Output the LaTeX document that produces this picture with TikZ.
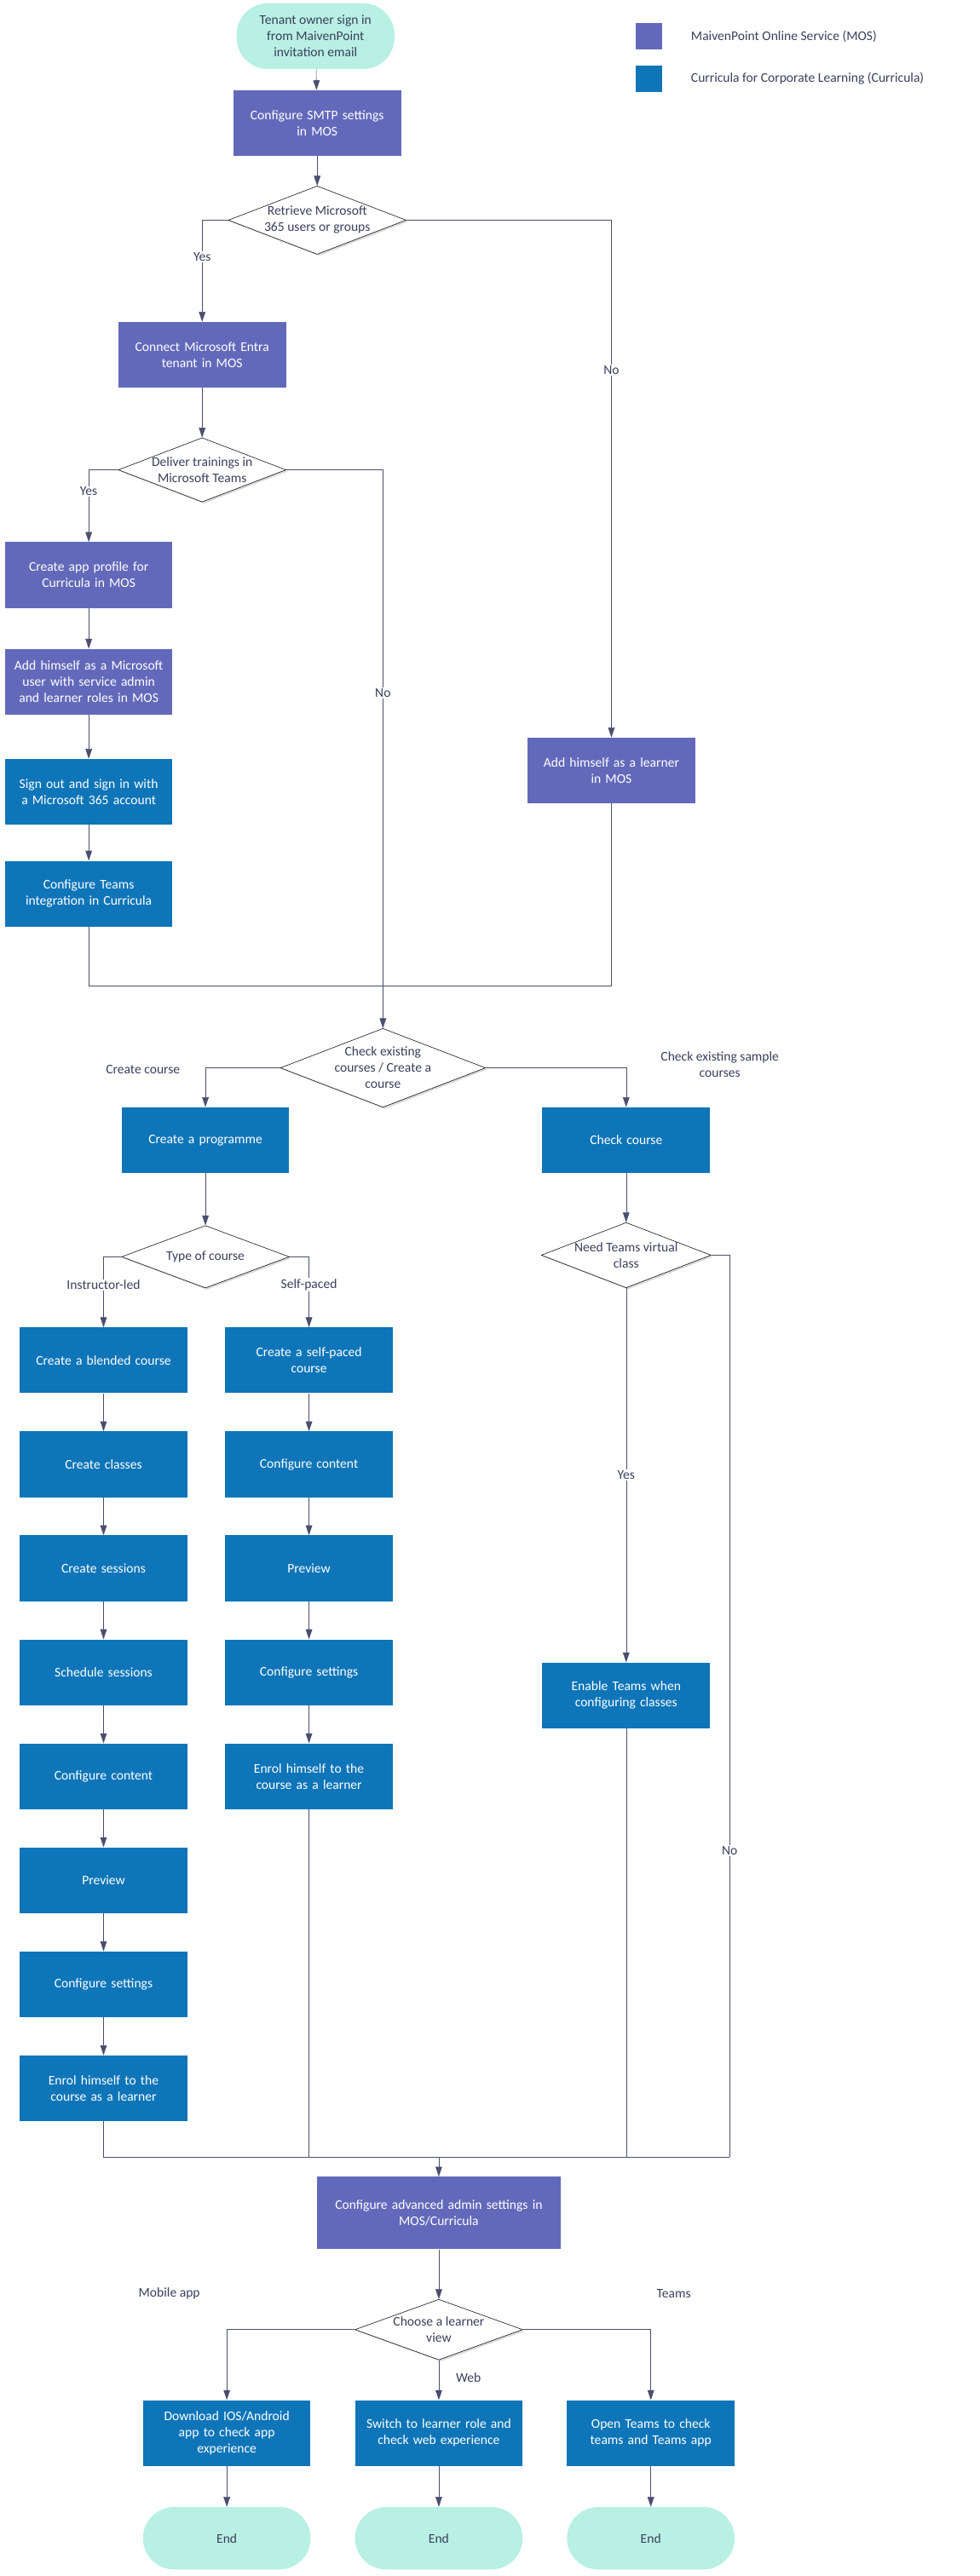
\documentclass[tikz,border=0pt]{standalone}
\usepackage{fontspec}
\setmainfont{Carlito}
\usetikzlibrary{shapes.geometric,arrows.meta,shadows}
\definecolor{mospurple}{HTML}{6369BA}
\definecolor{curblue}{HTML}{0E75B8}
\definecolor{termmint}{HTML}{B8F0E4}
\definecolor{linecol}{HTML}{4A4F6E}
\definecolor{txtcol}{HTML}{3B3F5C}
\begin{document}
\begin{tikzpicture}[x=0.05cm, y=-0.05cm,
    font=\fontsize{11.5}{14}\selectfont,
    mos/.style={rectangle, fill=mospurple, text=white, minimum width=5.1cm, minimum height=2cm, align=center, text width=4.8cm},
    cur/.style={rectangle, fill=curblue, text=white, minimum width=5.1cm, minimum height=2cm, align=center, text width=4.8cm},
    term/.style={rectangle, rounded corners=0.95cm, fill=termmint, text=txtcol, minimum width=5.1cm, minimum height=1.9cm, align=center},
    dec/.style={diamond, draw=black, fill=white, aspect=2.6, inner sep=0pt, minimum width=5.1cm, minimum height=1.9cm, align=center, text=txtcol, drop shadow={opacity=0.3, shadow xshift=0.5mm, shadow yshift=-0.5mm}},
    arr/.style={-{Triangle[length=3mm, width=2mm]}, linecol, thin},
    ln/.style={linecol, thin},
    lbl/.style={fill=white, text=txtcol, inner sep=1pt, align=center}
]
    \useasboundingbox (0,0) rectangle (596,1568);

    % legend
    \fill[mospurple] (387,14) rectangle (403,30);
    \fill[curblue] (387,40) rectangle (403,56);
    \node[anchor=west, text=txtcol] (legmos) at (418,22) {MaivenPoint Online Service (MOS)};
    \node[anchor=west, text=txtcol] (legcur) at (418,48) {Curricula for Corporate Learning (Curricula)};

    % top part
    \node[term, minimum width=4.8cm, minimum height=2cm] (start) at (192,22) {Tenant owner sign in\\from MaivenPoint\\invitation email};
    \node[mos] (smtp) at (193,75) {Configure SMTP settings\\in MOS};
    \node[dec] (retr) at (193,134) {Retrieve Microsoft\\365 users or groups};
    \node[mos] (entra) at (123,216) {Connect Microsoft Entra\\tenant in MOS};
    \node[dec] (teams) at (123,286) {Deliver trainings in\\Microsoft Teams};
    \node[mos] (app) at (54,350) {Create app profile for\\Curricula in MOS};
    \node[mos] (msuser) at (54,415) {Add himself as a Microsoft user with service admin and learner roles in MOS};
    \node[cur] (signin) at (54,482) {Sign out and sign in with\\a Microsoft 365 account};
    \node[cur] (tint) at (54,544) {Configure Teams\\integration in Curricula};
    \node[mos] (learner) at (372,469) {Add himself as a learner\\in MOS};

    \draw[arr] (start) -- (smtp);
    \draw[arr] (smtp) -- (retr);
    \draw[arr] (retr.west) -| node[lbl, pos=0.68] {Yes} (entra.north);
    \draw[arr] (retr.east) -| node[lbl, pos=0.645] {No} (learner.north);
    \draw[arr] (entra) -- (teams);
    \draw[arr] (teams.west) -| node[lbl, pos=0.65] {Yes} (app.north);
    \draw[arr] (app) -- (msuser);
    \draw[arr] (msuser) -- (signin);
    \draw[arr] (signin) -- (tint);

    % courses
    \node[dec, minimum height=2cm] (check) at (233,650) {Check existing\\courses / Create a\\course};
    \draw[arr] (teams.east) -| node[lbl, pos=0.7] {No} (check.north);
    \draw[ln] (tint.south) |- (233,600);
    \draw[ln] (learner.south) |- (233,600);
    \node[text=txtcol] (lcreate) at (87,651) {Create course};
    \node[text=txtcol, align=center] (lsample) at (438,648) {Check existing sample\\courses};

    \node[cur] (prog) at (125,694) {Create a programme};
    \node[cur] (chk) at (381,694) {Check course};
    \draw[arr] (check.west) -| (prog.north);
    \draw[arr] (check.east) -| (chk.north);

    \node[dec] (type) at (125,765) {Type of course};
    \node[dec] (virt) at (381,764) {Need Teams virtual\\class};
    \draw[arr] (prog) -- (type);
    \draw[arr] (chk) -- (virt);

    % instructor-led column
    \foreach \t [count=\i] in {Create a blended course, Create classes, Create sessions, Schedule sessions, Configure content, Preview, Configure settings, {Enrol himself to the\\course as a learner}} {
        \node[cur] (il\i) at ({63}, {828+(\i-1)*63.3}) {\t};
    }
    \foreach \i [evaluate=\i as \j using int(\i+1)] in {1,...,7} {
        \draw[arr] (il\i) -- (il\j);
    }
    % self-paced column
    \foreach \t [count=\i] in {{Create a self-paced\\course}, Configure content, Preview, Configure settings, {Enrol himself to the\\course as a learner}} {
        \node[cur] (sp\i) at ({188}, {828+(\i-1)*63.3}) {\t};
    }
    \foreach \i [evaluate=\i as \j using int(\i+1)] in {1,...,4} {
        \draw[arr] (sp\i) -- (sp\j);
    }
    \draw[arr] (type.west) -| node[lbl, pos=0.7] {Instructor-led} (il1.north);
    \draw[arr] (type.east) -| node[lbl, pos=0.7] {Self-paced} (sp1.north);

    \node[cur] (enable) at (381,1032) {Enable Teams when\\configuring classes};
    \draw[arr] (virt.south) -- node[lbl, pos=0.5] {Yes} (enable.north);

    % merge
    \node[mos, minimum width=7.4cm, minimum height=2.2cm, text width=7cm] (admin) at (267,1347) {Configure advanced admin settings in\\MOS/Curricula};
    \coordinate (mergeR) at (444,1313);
    \draw[ln] (virt.east) -| node[lbl, pos=0.83] {No} (mergeR);
    \draw[ln] (il8.south) |- (mergeR);
    \draw[ln] (sp5.south) -- (188,1313);
    \draw[ln] (enable.south) -- (381,1313);
    \draw[arr] (267,1313) -- (admin.north);

    % learner view
    \node[dec, minimum height=1.8cm] (view) at (267,1418) {Choose a learner\\view};
    \draw[arr] (admin) -- (view);
    \node[cur] (mobile) at (138,1481) {Download IOS/Android\\app to check app\\experience};
    \node[cur] (web) at (267,1481) {Switch to learner role and\\check web experience};
    \node[cur] (tapp) at (396,1481) {Open Teams to check\\teams and Teams app};
    \draw[arr] (view.west) -| (mobile.north);
    \draw[arr] (view.east) -| (tapp.north);
    \draw[arr] (view.south) -- (web.north);
    \node[text=txtcol] (lmobile) at (103,1396) {Mobile app};
    \node[text=txtcol] (lteams) at (410,1396) {Teams};
    \node[text=txtcol] (lweb) at (285,1447) {Web};

    \foreach \n/\x in {mobile/138, web/267, tapp/396} {
        \node[term] (end\n) at (\x,1545) {End};
        \draw[arr] (\n) -- (end\n);
    }
\end{tikzpicture}
\end{document}
